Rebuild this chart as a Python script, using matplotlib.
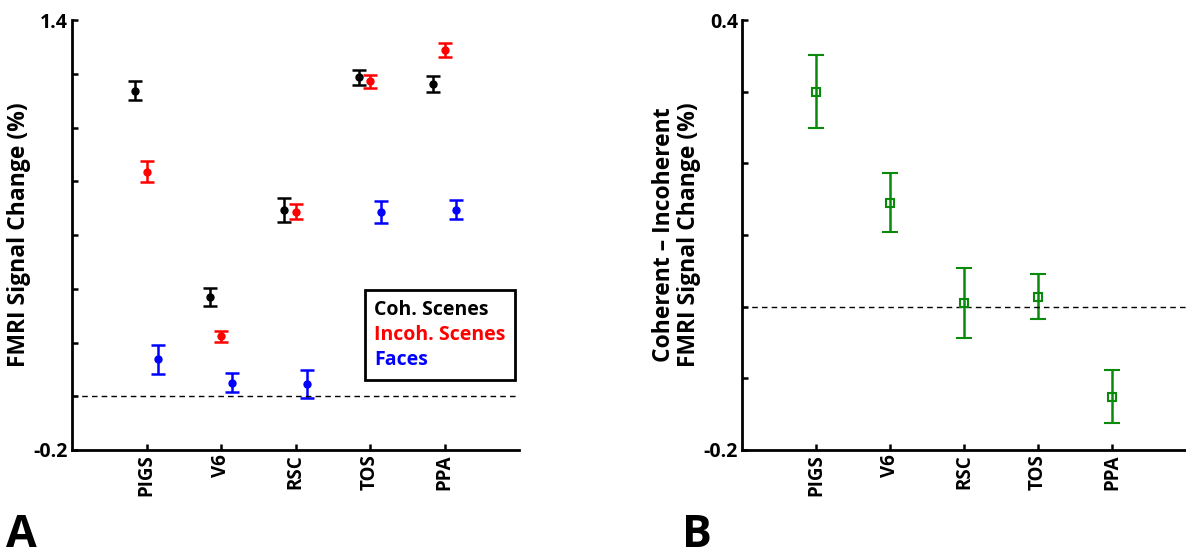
import matplotlib.pyplot as plt
from matplotlib.lines import Line2D

plt.rcParams['font.family'] = ['Open Sans', 'DejaVu Sans']
plt.rcParams['font.weight'] = 'bold'

regions = ['PIGS', 'V6', 'RSC', 'TOS', 'PPA']

# panel A: mean signal change and error per condition
coh_mean = [1.137, 0.369, 0.692, 1.187, 1.162]
coh_err = [0.036, 0.034, 0.045, 0.029, 0.029]
incoh_mean = [0.836, 0.223, 0.686, 1.172, 1.289]
incoh_err = [0.039, 0.021, 0.028, 0.024, 0.025]
faces_mean = [0.137, 0.050, 0.047, 0.686, 0.695]
faces_err = [0.055, 0.036, 0.052, 0.042, 0.037]

# panel B: coherent - incoherent difference
diff_mean = [0.300, 0.145, 0.005, 0.014, -0.126]
diff_err = [0.051, 0.041, 0.049, 0.031, 0.037]

series_a = [
    ('Coh. Scenes', coh_mean, coh_err, 'black', -0.15),
    ('Incoh. Scenes', incoh_mean, incoh_err, 'red', 0.0),
    ('Faces', faces_mean, faces_err, 'blue', 0.15),
]

fig = plt.figure(figsize=(11.86, 5.59), dpi=100)
axA = fig.add_axes([0.0607, 0.195, 0.377, 0.769])
axB = fig.add_axes([0.6256, 0.195, 0.3744, 0.769])

x = list(range(1, len(regions) + 1))


def style_axis(ax, ylo, yhi, step, nticks):
    ax.set_xlim(0, 6)
    ax.set_ylim(ylo, yhi)
    for s in ['top', 'right']:
        ax.spines[s].set_visible(False)
    for s in ['left', 'bottom']:
        ax.spines[s].set_linewidth(2)
    ax.set_xticks(x)
    ax.set_xticklabels(regions, rotation=90, fontsize=13.5, fontweight='bold')
    ticks = [ylo + i * step for i in range(nticks)]
    ax.set_yticks(ticks)
    labels = [''] * nticks
    labels[0] = f'{ylo:g}'
    labels[-1] = f'{yhi:g}'
    ax.set_yticklabels(labels, fontsize=14, fontweight='bold')
    ax.tick_params(direction='in', length=4, width=1.8, pad=3)
    ax.axhline(0, color='black', linestyle='--', linewidth=1, dashes=(4, 3))


for name, m, e, c, off in series_a:
    axA.errorbar([xi + off for xi in x], m, yerr=e, fmt='o', color=c,
                 markersize=5, capsize=5, elinewidth=1.8, capthick=1.8)

style_axis(axA, -0.2, 1.4, 0.2, 9)
axA.set_ylabel('FMRI Signal Change (%)', fontsize=16.5, fontweight='bold', labelpad=2)

# text-only legend
blank = [Line2D([], [], linestyle='none') for _ in series_a]
leg = axA.legend(blank, [s[0] for s in series_a], loc='upper right',
                 bbox_to_anchor=(5.95, 0.394), bbox_transform=axA.transData,
                 handlelength=0, handletextpad=0, fancybox=False,
                 edgecolor='black', framealpha=1,
                 prop={'size': 14, 'weight': 'bold'}, borderpad=0.5,
                 labelspacing=0.25, borderaxespad=0)
leg.get_frame().set_linewidth(2)
for txt, s in zip(leg.get_texts(), series_a):
    txt.set_color(s[3])

axB.errorbar(x, diff_mean, yerr=diff_err, fmt='s', color='#0a8a0a', mfc='none',
             markersize=5.5, mew=1.5, capsize=6, elinewidth=1.8, capthick=1.8)
style_axis(axB, -0.2, 0.4, 0.1, 7)
axB.set_ylabel('Coherent \u2013 Incoherent\nFMRI Signal Change (%)', fontsize=16.5,
               fontweight='bold', labelpad=2, linespacing=1.05)

fig.text(0.005, 0.022, 'A', fontsize=32, fontweight='bold')
fig.text(0.575, 0.022, 'B', fontsize=32, fontweight='bold')

fig.savefig('out.png', dpi=100)
